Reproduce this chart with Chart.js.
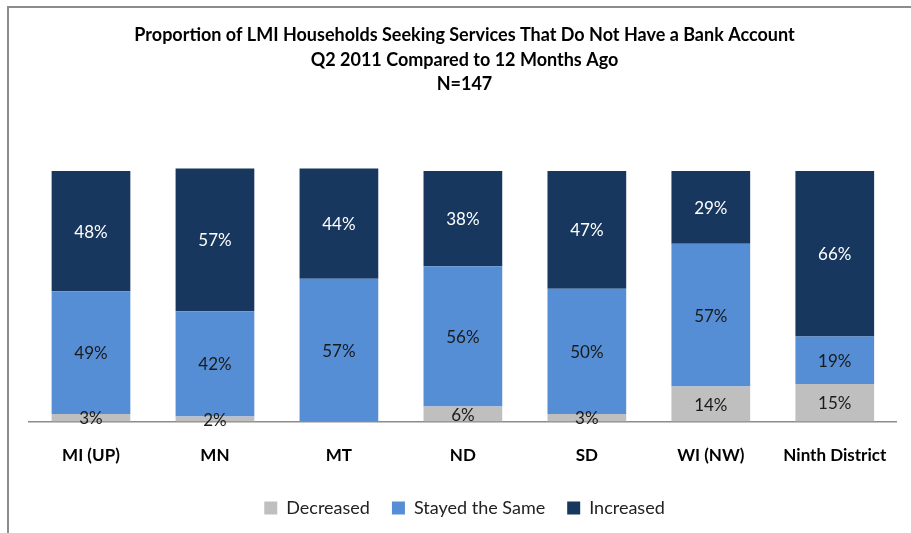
<!DOCTYPE html>
<html>
<head>
<meta charset="utf-8">
<script src="https://cdn.jsdelivr.net/npm/chart.js@4"></script>
<style>
  body { margin: 0; background: #fff; }
  #wrap { position: relative; width: 911px; height: 533px; }
  #frame { position: absolute; left: 7px; top: 6px; width: 904px; height: 527px;
           border-left: 2px solid #8c8c8c; border-top: 2px solid #8c8c8c; }
  canvas { position: absolute; left: 0; top: 0; }
</style>
</head>
<body>
<div id="wrap">
  <div id="frame"></div>
  <canvas id="chart" width="911" height="533"></canvas>
</div>
<script>
let regions = ['MI (UP)', 'MN', 'MT', 'ND', 'SD', 'WI (NW)', 'Ninth District'];
let decreased = [3, 2, 0, 6, 3, 14, 15];
let stayedSame = [49, 42, 57, 56, 50, 57, 19];
let increased = [48, 57, 44, 38, 47, 29, 66];
let titleLines = [
  'Proportion of LMI Households Seeking Services That Do Not Have a Bank Account',
  'Q2 2011 Compared to 12 Months Ago',
  'N=147'
];

const FONT = 'Lato, "Open Sans", sans-serif';

// writes the % value in the middle of each segment
const segmentLabels = {
  id: 'segmentLabels',
  afterDatasetsDraw(chart) {
    let ctx = chart.ctx;
    ctx.save();
    ctx.font = '17px ' + FONT;
    ctx.textAlign = 'center';
    ctx.textBaseline = 'middle';
    chart.data.datasets.forEach((ds, i) => {
      let meta = chart.getDatasetMeta(i);
      meta.data.forEach((bar, j) => {
        let val = ds.data[j];
        if (!val) return;
        let p = bar.getProps(['x', 'y', 'base'], true);
        ctx.fillStyle = i === 2 ? '#ffffff' : '#1a1a1a';
        ctx.fillText(val + '%', p.x, (p.y + p.base) / 2 + 1);
      });
    });
    ctx.restore();
  }
};

new Chart(document.getElementById('chart'), {
  type: 'bar',
  data: {
    labels: regions,
    datasets: [
      { label: 'Decreased', data: decreased, backgroundColor: '#bfbfbf' },
      { label: 'Stayed the Same', data: stayedSame, backgroundColor: '#558ed5' },
      { label: 'Increased', data: increased, backgroundColor: '#17375e' }
    ]
  },
  options: {
    responsive: false,
    animation: false,
    barPercentage: 0.635,
    categoryPercentage: 1,
    layout: { padding: { left: 29, right: 11, top: 0, bottom: 6 } },
    scales: {
      x: {
        stacked: true,
        grid: { display: false, drawTicks: false },
        border: { display: true, color: '#8c8c8c', width: 1.5 },
        ticks: { color: '#000', padding: 24, font: { family: FONT, size: 17, weight: 'bold' } },
        afterFit(scale) { scale.height -= 13; }
      },
      y: {
        stacked: true,
        display: false,
        min: 0,
        max: 120
      }
    },
    plugins: {
      title: {
        display: true,
        text: titleLines,
        color: '#000',
        font: { family: FONT, size: 18, weight: 'bold', lineHeight: 1.37 },
        padding: { top: 23, bottom: 24 }
      },
      legend: {
        position: 'bottom',
        labels: {
          color: '#222',
          boxWidth: 13,
          boxHeight: 13,
          padding: 22,
          font: { family: FONT, size: 18 }
        }
      },
      tooltip: { enabled: false }
    }
  },
  plugins: [segmentLabels]
});
</script>
</body>
</html>
